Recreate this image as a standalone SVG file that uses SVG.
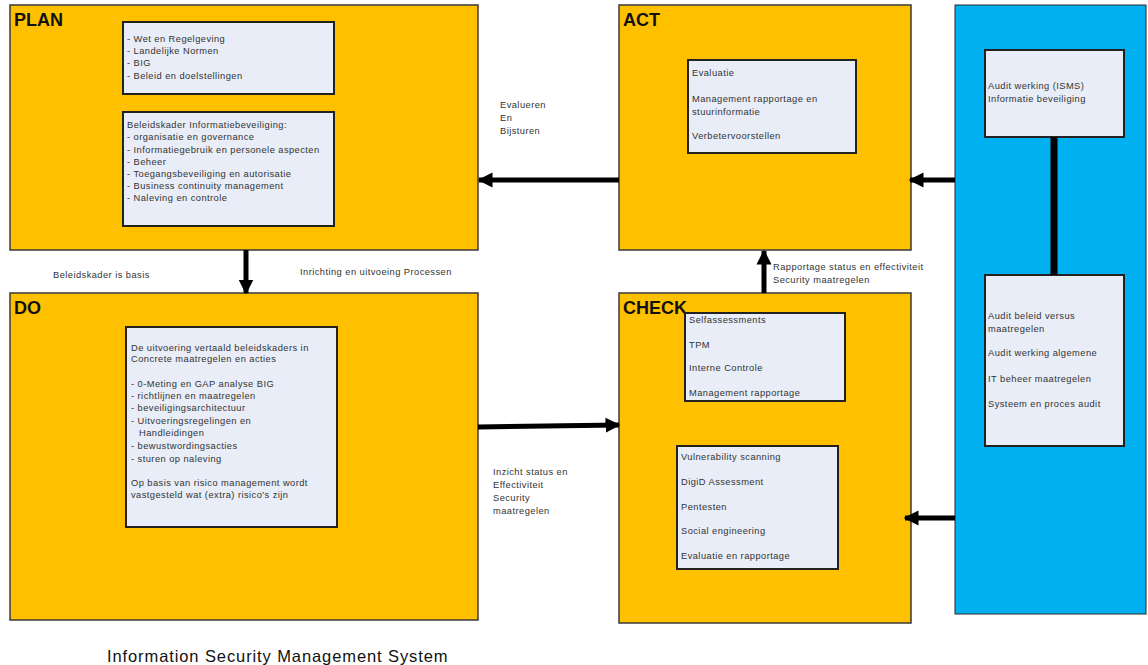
<svg xmlns="http://www.w3.org/2000/svg" width="1148" height="665" viewBox="0 0 1148 665">
<style>
.phase{fill:#FFC000;stroke:#3a3a3a;stroke-width:1.5}
.blue{fill:#00B0F0;stroke:#2a2a2a;stroke-width:1}
.inner{fill:#E8EDF7;stroke:#222;stroke-width:2}
.title{font-family:"Liberation Sans",Arial,sans-serif;font-weight:bold;font-size:18px;fill:#111}
.t{font-family:"Liberation Sans",Arial,sans-serif;font-size:9.3px;letter-spacing:0.45px;fill:#333}
.lbl{font-family:"Liberation Sans",Arial,sans-serif;font-size:9.3px;letter-spacing:0.45px;fill:#333}
.conn{stroke:#000;stroke-width:5;fill:none}
</style>
<defs>
<marker id="ah" viewBox="0 0 10 10" refX="9" refY="5" markerWidth="3" markerHeight="3.2" orient="auto" markerUnits="strokeWidth">
<path d="M0,0 L10,5 L0,10 z" fill="#000"/>
</marker>
</defs>
<rect width="1148" height="665" fill="#fff"/>

<g id="plan">
<rect class="phase" x="10" y="5" width="468" height="245"/>
<text class="title" x="14" y="26">PLAN</text>
<rect class="inner" x="123" y="22" width="211" height="72"/>
<text class="t"><tspan x="127" y="42">- Wet en Regelgeving</tspan><tspan x="127" y="54">- Landelijke Normen</tspan><tspan x="127" y="66">- BIG</tspan><tspan x="127" y="79">- Beleid en doelstellingen</tspan></text>
<rect class="inner" x="123" y="112" width="211" height="114"/>
<text class="t"><tspan x="127" y="128">Beleidskader Informatiebeveiliging:</tspan><tspan x="127" y="140">- organisatie en governance</tspan><tspan x="127" y="153">- Informatiegebruik en personele aspecten</tspan><tspan x="127" y="165">- Beheer</tspan><tspan x="127" y="177">- Toegangsbeveiliging en autorisatie</tspan><tspan x="127" y="189">- Business continuity management</tspan><tspan x="127" y="201">- Naleving en controle</tspan></text>
</g>

<g id="act">
<rect class="phase" x="619" y="5" width="292" height="245"/>
<text class="title" x="623" y="26">ACT</text>
<rect class="inner" x="688" y="60" width="168" height="93"/>
<text class="t"><tspan x="692" y="76">Evaluatie</tspan><tspan x="692" y="102">Management rapportage en</tspan><tspan x="692" y="115">stuurinformatie</tspan><tspan x="692" y="139">Verbetervoorstellen</tspan></text>
</g>

<g id="do">
<rect class="phase" x="10" y="293" width="468" height="327"/>
<text class="title" x="14" y="314">DO</text>
<rect class="inner" x="126" y="327" width="211" height="200"/>
<text class="t"><tspan x="131" y="351">De uitvoering vertaald beleidskaders in</tspan><tspan x="131" y="362">Concrete maatregelen en acties</tspan><tspan x="131" y="387">- 0-Meting en GAP analyse BIG</tspan><tspan x="131" y="399">- richtlijnen en maatregelen</tspan><tspan x="131" y="411">- beveiligingsarchitectuur</tspan><tspan x="131" y="424">- Uitvoeringsregelingen en</tspan><tspan x="139" y="436">Handleidingen</tspan><tspan x="131" y="449">- bewustwordingsacties</tspan><tspan x="131" y="462">- sturen op naleving</tspan><tspan x="131" y="486">Op basis van risico management wordt</tspan><tspan x="131" y="498">vastgesteld wat (extra) risico's zijn</tspan></text>
</g>

<g id="check">
<rect class="phase" x="619" y="293" width="292" height="330"/>
<text class="title" x="623" y="314">CHECK</text>
<rect class="inner" x="685" y="313" width="160" height="88"/>
<text class="t"><tspan x="689" y="323">Selfassessments</tspan><tspan x="689" y="348">TPM</tspan><tspan x="689" y="371">Interne Controle</tspan><tspan x="689" y="396">Management rapportage</tspan></text>
<rect class="inner" x="677" y="446" width="161" height="123"/>
<text class="t"><tspan x="681" y="460">Vulnerability scanning</tspan><tspan x="681" y="485">DigiD Assessment</tspan><tspan x="681" y="510">Pentesten</tspan><tspan x="681" y="534">Social engineering</tspan><tspan x="681" y="559">Evaluatie en rapportage</tspan></text>
</g>

<g id="audit">
<rect class="blue" x="955" y="5" width="191" height="609"/>
<rect class="inner" x="985" y="50" width="139" height="87"/>
<text class="t"><tspan x="988" y="89">Audit werking (ISMS)</tspan><tspan x="988" y="102">Informatie beveiliging</tspan></text>
<rect class="inner" x="985" y="275" width="139" height="171"/>
<text class="t"><tspan x="988" y="319">Audit beleid versus</tspan><tspan x="988" y="332">maatregelen</tspan><tspan x="988" y="356">Audit werking algemene</tspan><tspan x="988" y="382">IT beheer maatregelen</tspan><tspan x="988" y="407">Systeem en proces audit</tspan></text>
</g>

<g id="connectors">
<line x1="1054" y1="137" x2="1054" y2="275" stroke="#000" stroke-width="7"/>
<line class="conn" x1="619" y1="180" x2="479" y2="180" marker-end="url(#ah)"/>
<line class="conn" x1="955" y1="180" x2="910" y2="180" marker-end="url(#ah)"/>
<line class="conn" x1="246" y1="250" x2="246" y2="293" marker-end="url(#ah)"/>
<line class="conn" x1="478" y1="427" x2="619" y2="425" marker-end="url(#ah)"/>
<line class="conn" x1="764" y1="293" x2="764" y2="251" marker-end="url(#ah)"/>
<line class="conn" x1="955" y1="518" x2="905" y2="518" marker-end="url(#ah)"/>
<text class="lbl"><tspan x="500" y="108">Evalueren</tspan><tspan x="500" y="121">En</tspan><tspan x="500" y="134">Bijsturen</tspan></text>
<text class="lbl" x="53" y="278">Beleidskader is basis</text>
<text class="lbl" x="300" y="275">Inrichting en uitvoeing Processen</text>
<text class="lbl"><tspan x="773" y="270">Rapportage status en effectiviteit</tspan><tspan x="773" y="283">Security maatregelen</tspan></text>
<text class="lbl"><tspan x="493" y="475">Inzicht status en</tspan><tspan x="493" y="488">Effectiviteit</tspan><tspan x="493" y="501">Security</tspan><tspan x="493" y="514">maatregelen</tspan></text>
</g>

<text x="107" y="662" font-family="Liberation Sans, Arial, sans-serif" font-size="16.5" letter-spacing="0.9" fill="#111">Information Security Management System</text>
</svg>
